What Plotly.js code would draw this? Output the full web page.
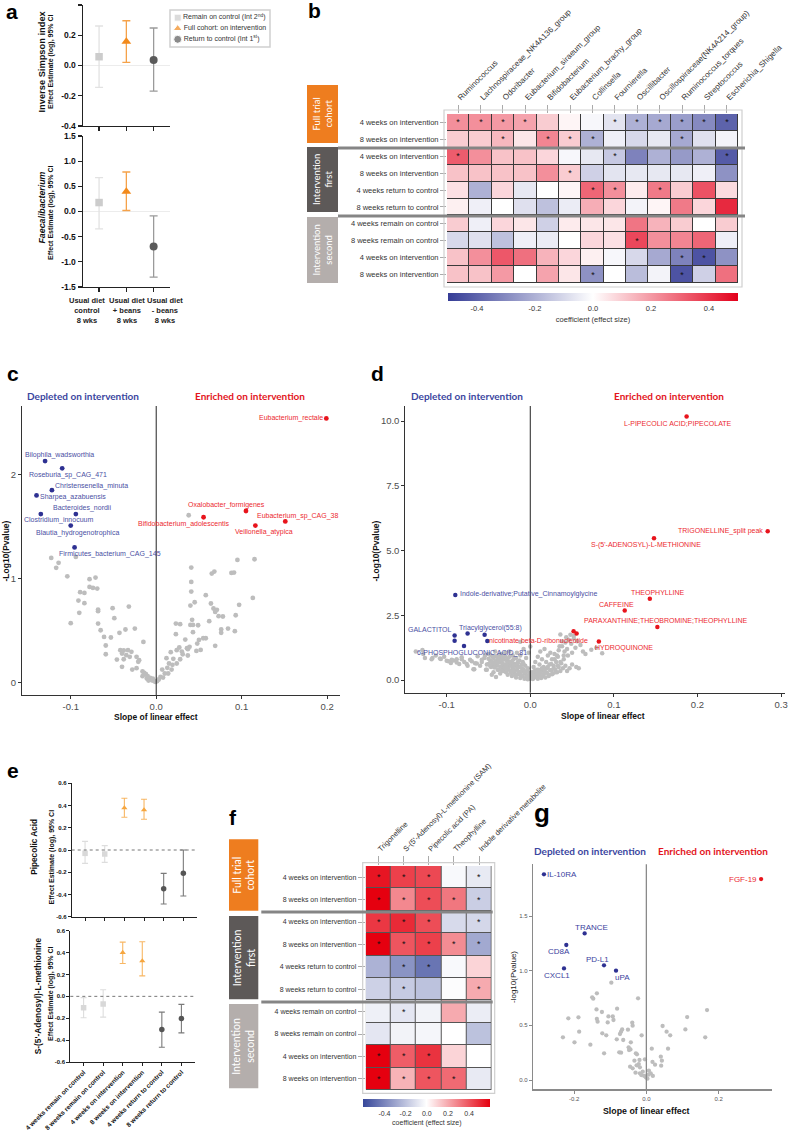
<!DOCTYPE html>
<html><head><meta charset="utf-8">
<script src="https://cdn.plot.ly/plotly-3.0.1.min.js"></script>
<style>html,body{margin:0;padding:0;background:#fff}#chart{width:789px;height:1139px}</style>
</head><body><div id="chart"></div>
<script>
// ================= DATA =================
// Panel a
const aCategories = ['Usual diet<br>control<br>8 wks', 'Usual diet<br>+ beans<br>8 wks', 'Usual diet<br>- beans<br>8 wks'];
const aGroupNames = ['Remain on control (Int 2<sup>nd</sup>)', 'Full cohort: on intervention', 'Return to control (Int 1<sup>st</sup>)'];
const aSimpsonEst = [0.058, 0.158, 0.036];
const aSimpsonLo = [-0.144, 0.021, -0.169];
const aSimpsonHi = [0.261, 0.296, 0.248];
const aFaecEst = [0.178, 0.397, -0.694];
const aFaecLo = [-0.344, 0.02, -1.302];
const aFaecHi = [0.674, 0.785, -0.086];

// Heatmap rows (shared by b and f)
const heatRows = ['4 weeks on intervention', '8 weeks on intervention', '4 weeks on intervention', '8 weeks on intervention', '4 weeks return to control', '8 weeks return to control', '4 weeks remain on control', '8 weeks remain on control', '4 weeks on intervention', '8 weeks on intervention'];
const groupNames = ['Full trial<br>cohort', 'Intervention<br>first', 'Intervention<br>second'];

// Panel b
const bGenera = ['Ruminococcus', 'Lachnospiraceae_NK4A136_group', 'Odoribacter', 'Eubacterium_siraeum_group', 'Bifidobacterium', 'Eubacterium_brachy_group', 'Collinsella', 'Fournierella', 'Oscillibacter', 'Oscillospiraceae(NK4A214_group)', 'Ruminococcus_torques', 'Streptococcus', 'Escherichia_Shigella'];
const bValues = [
  [0.22, 0.22, 0.20, 0.18, 0.10, 0.02, -0.02, -0.07, -0.20, -0.22, -0.25, -0.30, -0.40],
  [0.10, 0.10, 0.14, 0.05, 0.24, 0.10, -0.20, -0.04, -0.10, -0.06, -0.22, -0.08, -0.03],
  [0.32, 0.22, 0.12, 0.12, 0.08, -0.02, -0.06, -0.14, -0.32, -0.20, -0.26, -0.20, -0.42],
  [0.12, 0.12, 0.12, 0.12, 0.22, 0.10, -0.12, -0.07, -0.06, -0.06, -0.06, -0.04, -0.28],
  [0.06, -0.20, 0.08, -0.06, 0.00, 0.02, 0.30, 0.22, 0.04, 0.26, 0.10, 0.34, 0.07],
  [0.03, -0.04, 0.00, -0.08, -0.16, -0.05, 0.16, 0.08, -0.03, 0.02, 0.26, 0.08, 0.42],
  [0.10, -0.04, 0.08, 0.05, -0.12, 0.04, 0.05, 0.05, 0.27, 0.15, 0.10, 0.00, 0.10],
  [-0.10, -0.08, -0.16, -0.04, -0.05, 0.00, 0.08, 0.06, 0.36, 0.22, 0.24, 0.30, -0.04],
  [0.12, 0.22, 0.33, 0.28, 0.15, 0.08, 0.03, -0.02, -0.10, -0.22, -0.32, -0.44, -0.28],
  [0.12, 0.12, 0.20, 0.00, 0.18, 0.05, -0.28, 0.00, -0.17, -0.03, -0.44, -0.12, 0.28]
];
const bSig = [
  [1,1,1,1,0,0,0,1,1,1,1,1,1],
  [0,0,1,0,1,1,1,0,0,0,1,0,0],
  [1,0,0,0,0,0,0,1,0,0,0,0,1],
  [0,0,0,0,0,1,0,0,0,0,0,0,0],
  [0,0,0,0,0,0,1,1,0,1,0,0,0],
  [0,0,0,0,0,0,0,0,0,0,0,0,0],
  [0,0,0,0,0,0,0,0,0,0,0,0,0],
  [0,0,0,0,0,0,0,0,1,0,0,0,0],
  [0,0,0,0,0,0,0,0,0,0,1,1,0],
  [0,0,0,0,0,0,1,0,0,0,1,0,0]
];
const bColorTicks = [-0.4, -0.2, 0, 0.2, 0.4];

// Panel c
const cBlueNames = ['Bilophila_wadsworthia', 'Roseburia_sp_CAG_471', 'Christensenella_minuta', 'Sharpea_azabuensis', 'Bacteroides_nordii', 'Clostridium_innocuum', 'Blautia_hydrogenotrophica', 'Firmicutes_bacterium_CAG_145'];
const cBlueX = [-0.130, -0.110, -0.122, -0.140, -0.094, -0.135, -0.100, -0.0955];
const cBlueY = [2.13, 2.06, 1.85, 1.80, 1.62, 1.62, 1.51, 1.30];
const cRedNames = ['Eubacterium_rectale', 'Oxalobacter_formigenes', 'Eubacterium_sp_CAG_38', 'Bifidobacterium_adolescentis', 'Veillonella_atypica'];
const cRedX = [0.199, 0.105, 0.151, 0.0554, 0.116];
const cRedY = [2.54, 1.65, 1.55, 1.59, 1.51];
const cGray = [
  [-0.1228,1.199],[-0.1142,1.151],[-0.117,1.103],[-0.094,1.208],[-0.104,1.022],[-0.078,0.994],[-0.071,1.010],[-0.078,0.920],[-0.074,0.910],[-0.069,0.904],
  [-0.089,0.869],[-0.084,0.862],[-0.091,0.788],[-0.084,0.763],[-0.068,0.702],[-0.068,0.686],[-0.090,0.670],[-0.051,0.715],[-0.032,0.731],[-0.100,0.571],
  [-0.049,0.619],[-0.068,0.567],[-0.065,0.503],[-0.061,0.439],[-0.053,0.433],[-0.043,0.478],[-0.036,0.510],[-0.025,0.519],[-0.059,0.356],[-0.059,0.272],
  [-0.015,0.391],[-0.042,0.311],[-0.038,0.308],[-0.033,0.311],[-0.040,0.279],[-0.035,0.263],[-0.029,0.295],[-0.046,0.221],[-0.038,0.224],[-0.031,0.247],
  [-0.023,0.247],[-0.040,0.151],[-0.028,0.125],[-0.023,0.138],[-0.021,0.199],[-0.020,0.215],[-0.016,0.106],[-0.014,0.093],[-0.012,0.080],[-0.010,0.061],
  [-0.007,0.045],[-0.005,0.022],[-0.003,0.016],[-0.011,0.038],[-0.016,0.061],[-0.009,0.019],[-0.004,0.038],[-0.001,0.006],
  [0.038,1.609],[0.041,1.106],[0.095,1.179],[0.115,1.186],[0.041,0.968],[0.065,1.048],[0.068,1.067],[0.088,1.054],[0.091,1.058],[0.041,0.875],
  [0.058,0.840],[0.113,0.814],[0.045,0.772],[0.040,0.740],[0.064,0.760],[0.097,0.747],[0.067,0.712],[0.071,0.699],[0.069,0.679],[0.073,0.638],
  [0.078,0.635],[0.093,0.647],[0.042,0.603],[0.023,0.567],[0.028,0.561],[0.040,0.554],[0.043,0.554],[0.049,0.551],[0.062,0.590],[0.084,0.519],
  [0.076,0.510],[0.076,0.478],[0.092,0.494],[0.023,0.465],[0.043,0.484],[0.055,0.426],[0.058,0.426],[0.050,0.410],[0.034,0.413],[0.048,0.375],
  [0.069,0.353],[0.027,0.337],[0.036,0.330],[0.039,0.343],[0.017,0.292],[0.024,0.311],[0.037,0.321],[0.030,0.298],[0.052,0.314],[0.047,0.304],
  [0.012,0.234],[0.020,0.228],[0.028,0.224],[0.031,0.272],[0.037,0.260],[0.015,0.183],[0.019,0.170],[0.024,0.183],[0.013,0.141],[0.007,0.125],
  [0.018,0.125],[0.010,0.087],[0.014,0.087],[0.005,0.054],[0.003,0.029],[0.008,0.048],[0.001,0.013]
];

// Panel d
const dRedNames = ['L-PIPECOLIC ACID;PIPECOLATE', 'TRIGONELLINE_split peak', 'S-(5\'-ADENOSYL)-L-METHIONINE', 'THEOPHYLLINE', 'CAFFEINE', 'PARAXANTHINE;THEOBROMINE;THEOPHYLLINE', 'HYDROQUINONE', 'nicotinate beta-D-ribonucleotide', ''];
const dRedX = [0.187, 0.284, 0.148, 0.143, 0.113, 0.152, 0.082, 0.0518, 0.0554];
const dRedY = [10.17, 5.74, 5.47, 3.14, 2.68, 2.05, 1.49, 1.88, 1.80];
const dBlueNames = ['Indole-derivative;Putative_Cinnamoylglycine', 'GALACTITOL', '', 'Triacylglycerol(55:8)', '', '', '6-PHOSPHOGLUCONIC ACID_.81'];
const dBlueX = [-0.0897, -0.0905, -0.0905, -0.075, -0.0546, -0.0514, -0.0793];
const dBlueY = [3.28, 1.72, 1.52, 1.80, 1.75, 1.51, 1.31];
const dGray = [
  [-0.137,1.10],[-0.129,1.16],[-0.128,1.00],[-0.117,0.85],[-0.113,0.95],[-0.107,0.81],[-0.103,0.90],[-0.098,0.72],[-0.095,0.66],[-0.092,0.75],
  [-0.088,0.80],[-0.085,0.62],[-0.082,0.88],[-0.079,0.70],[-0.075,0.55],[-0.072,0.78],[-0.068,0.42],[-0.066,0.65],[-0.063,0.92],[-0.060,0.55],
  [-0.058,0.70],[-0.055,0.85],[-0.053,0.40],[-0.052,0.60],[-0.050,1.00],[-0.048,0.75],[-0.047,0.50],[-0.045,0.90],[-0.044,0.30],[-0.043,0.65],
  [-0.042,1.10],[-0.040,0.55],[-0.039,0.80],[-0.038,0.40],[-0.037,0.95],[-0.036,0.25],[-0.035,0.70],[-0.034,0.50],[-0.033,0.85],[-0.032,0.35],
  [-0.031,0.60],[-0.030,1.05],[-0.029,0.45],[-0.028,0.75],[-0.027,0.20],[-0.026,0.55],[-0.025,0.90],[-0.024,0.35],[-0.023,0.65],[-0.022,0.15],
  [-0.021,0.45],[-0.020,0.80],[-0.019,0.30],[-0.018,0.55],[-0.017,0.10],[-0.016,0.40],[-0.015,0.70],[-0.014,0.22],[-0.013,0.50],[-0.012,0.08],
  [-0.011,0.32],[-0.010,0.60],[-0.009,0.15],[-0.008,0.40],[-0.007,0.05],[-0.006,0.25],[-0.005,0.10],[-0.004,0.35],[-0.003,0.03],[-0.002,0.18],
  [-0.001,0.06],[0.001,0.10],[0.002,0.30],[0.003,0.04],[0.004,0.50],[0.005,0.20],[0.006,0.70],[0.007,0.12],[0.008,0.40],[0.009,0.90],
  [0.010,0.25],[0.011,0.60],[0.012,1.10],[0.013,0.35],[0.014,0.80],[0.015,0.15],[0.016,0.50],[0.017,1.20],[0.018,0.30],[0.019,0.70],
  [0.020,0.45],[0.021,0.95],[0.022,0.20],[0.023,0.60],[0.024,1.05],[0.025,0.38],[0.026,0.80],[0.027,0.25],[0.028,0.55],[0.029,1.00],
  [0.030,0.40],[0.031,0.70],[0.032,0.30],[0.033,0.90],[0.034,0.50],[0.035,1.30],[0.036,0.35],[0.037,0.65],[0.038,1.50],[0.039,0.45],
  [0.040,0.80],[0.041,1.10],[0.042,0.55],[0.043,1.65],[0.044,0.35],[0.045,0.95],[0.047,0.45],[0.048,1.75],[0.050,0.60],[0.052,1.60],
  [0.055,0.50],[0.058,0.45],[0.036,1.76],[0.073,1.17],[0.086,1.03],[0.079,1.25],[-0.052,0.40],[-0.067,0.42],[-0.046,0.20],[-0.041,0.12],
  [-0.050,0.62],[-0.050,0.82],[-0.048,0.55],[-0.047,0.95],[-0.046,0.70],[-0.045,0.58],[-0.044,0.85],[-0.043,0.48],[-0.042,0.72],[-0.041,0.92],
  [-0.040,0.62],[-0.039,0.40],[-0.038,0.68],[-0.037,0.85],[-0.036,0.52],[-0.035,1.00],[-0.034,0.38],[-0.033,0.62],[-0.032,0.78],[-0.031,0.48],
  [-0.030,0.90],[-0.029,0.30],[-0.028,0.62],[-0.027,0.82],[-0.026,0.42],[-0.025,1.10],[-0.024,0.55],[-0.023,0.28],[-0.022,0.72],[-0.021,0.95],
  [-0.020,0.40],[-0.019,0.62],[-0.018,0.20],[-0.017,0.85],[-0.016,1.05],[-0.015,0.50],[-0.014,0.32],[-0.013,0.75],[-0.012,1.48],[-0.012,0.95],
  [-0.011,0.18],[-0.010,0.45],[-0.009,0.70],[-0.008,1.20],[-0.007,0.30],[-0.006,0.55],[-0.005,0.85],[-0.004,0.15],[-0.003,0.45],[-0.002,1.05],
  [-0.001,0.28],[0.000,1.29],[-0.036,0.75],[-0.044,0.65],[-0.028,0.45],[-0.020,0.55],[-0.015,0.65],[-0.008,0.62],[-0.025,0.70],[-0.033,0.88],
  [0.002,0.20],[0.004,0.08],[0.005,0.35],[0.006,0.15],[0.008,0.25],[0.009,0.05],[0.010,0.40],[0.011,0.18],[0.012,0.30],[0.013,0.08],
  [0.014,0.45],[0.016,0.22],[0.017,0.35],[0.018,0.10],[0.020,0.28],[0.021,0.50],[0.022,0.15],[0.024,0.38],[0.025,0.62],[0.026,0.22],
  [0.028,0.45],[0.029,0.80],[0.030,0.30],[0.032,0.95],[0.033,0.55],[0.034,1.15],[0.036,0.70],[0.038,1.30],[0.040,0.95],[0.042,1.45],
  [0.044,1.20],[0.046,1.55],[0.049,1.40],[0.052,1.70],[0.054,1.25],[0.056,1.50],[0.060,1.35],[0.063,1.10],[0.066,1.00],[0.050,1.05],
  [-0.126,0.85],[-0.118,0.80],[-0.108,0.83],[-0.100,0.74],[-0.094,0.78],[-0.088,0.68],[-0.082,0.80],[-0.076,0.62],[-0.070,0.72],[-0.064,0.64],
  [-0.058,0.78],[-0.054,0.96]
];

// Panel e
const eCategories = ['4 weeks remain on control', '8 weeks remain on control', '4 weeks on intervention', '8 weeks on intervention', '4 weeks return to control', '8 weeks return to control'];
const eGroupOf = [0, 0, 1, 1, 2, 2];
const ePipEst = [-0.03, -0.036, 0.378, 0.36, -0.348, -0.21];
const ePipLo = [-0.12, -0.111, 0.294, 0.276, -0.486, -0.414];
const ePipHi = [0.078, 0.039, 0.465, 0.456, -0.21, 0.0];
const eSamEst = [-0.104, -0.07, 0.40, 0.324, -0.303, -0.202];
const eSamLo = [-0.196, -0.19, 0.30, 0.187, -0.465, -0.334];
const eSamHi = [-0.012, 0.061, 0.496, 0.499, -0.144, -0.073];

// Panel f
const fMetabolites = ['Trigonelline', 'S-(5\'-Adenosyl)-L-methionine (SAM)', 'Pipecolic acid (PA)', 'Theophylline', 'Indole derivative metabolite'];
const fValues = [
  [0.55, 0.45, 0.43, -0.02, -0.07],
  [0.60, 0.28, 0.42, 0.32, -0.16],
  [0.47, 0.50, 0.42, -0.12, -0.13],
  [0.60, 0.40, 0.45, 0.27, -0.28],
  [-0.25, -0.35, -0.45, -0.02, 0.10],
  [-0.15, -0.17, -0.20, -0.01, 0.20],
  [-0.05, -0.08, -0.04, 0.20, -0.06],
  [-0.08, -0.04, -0.03, 0.00, -0.20],
  [0.60, 0.38, 0.48, 0.10, 0.00],
  [0.60, 0.18, 0.40, 0.35, -0.07]
];
const fSig = [
  [1,1,1,0,1],[1,1,1,1,1],[1,1,1,0,1],[1,1,1,1,1],[0,1,1,0,0],
  [0,1,0,0,1],[0,1,0,0,0],[0,0,0,0,0],[1,1,1,0,0],[1,1,1,1,0]
];

// Panel g
const gBlueNames = ['IL-10RA', 'TRANCE', 'CD8A', 'PD-L1', 'CXCL1', 'uPA'];
const gBlueX = [-0.2835, -0.1708, -0.2216, -0.1173, -0.228, -0.084];
const gBlueY = [1.881, 1.341, 1.235, 1.049, 1.021, 1.0];
const gRedNames = ['FGF-19'];
const gRedX = [0.3176];
const gRedY = [1.838];
const gGray = [
  [-0.097,0.890],[-0.137,0.793],[-0.150,0.756],[-0.147,0.744],[-0.023,0.747],[-0.081,0.652],[-0.138,0.646],[-0.123,0.622],[-0.216,0.564],[-0.188,0.573],
  [-0.137,0.558],[-0.135,0.534],[-0.105,0.582],[-0.093,0.582],[-0.091,0.549],[-0.107,0.527],[-0.039,0.524],[-0.038,0.497],[-0.067,0.463],[-0.051,0.460],
  [-0.070,0.442],[-0.073,0.421],[-0.122,0.427],[-0.186,0.442],[-0.111,0.409],[-0.231,0.390],[-0.082,0.372],[-0.064,0.366],[-0.199,0.345],[-0.155,0.323],
  [-0.043,0.345],[-0.013,0.409],[-0.049,0.299],[-0.048,0.274],[-0.044,0.280],[-0.117,0.244],[-0.075,0.253],[-0.070,0.250],[-0.029,0.244],[-0.026,0.235],
  [0.015,0.287],[-0.004,0.189],[-0.033,0.177],[-0.019,0.183],[-0.021,0.146],[-0.027,0.134],[-0.045,0.122],[-0.038,0.107],[-0.018,0.116],[-0.030,0.067],
  [-0.018,0.061],[-0.014,0.046],[-0.006,0.037],[-0.001,0.024],[0.003,0.012],[0.006,0.049],[0.012,0.061],[0.018,0.037],[0.017,0.165],[0.024,0.140],
  [0.040,0.213],[0.043,0.177],[0.041,0.131],[0.045,0.494],[0.056,0.442],[0.066,0.409],[0.060,0.287],[0.113,0.576],[0.108,0.463],[0.168,0.640],
  [0.163,0.390],[-0.010,0.076],[0.007,0.085]
];

// ================= LAYOUT HELPERS =================
const W = 789, H = 1139;
const PX = v => v / W;
const PY = v => 1 - v / H;
const XD = (l, r) => [PX(l), PX(r)];
const YD = (t, b) => [PY(b), PY(t)];
const SANS = 'Liberation Sans, Arial, Helvetica, sans-serif';
const HUM = 'Lato, Open Sans, sans-serif';
const BLUE = '#2e3192', RED = '#e8141c', GRAY = '#bdbdbd';
const BLUE_T = '#4a4fa3', RED_T = '#ec2a30';
const groupColors = ['#ee7d1f', '#5d5958', '#b4aeac'];

const traces = [], shapes = [], annotations = [];
const layout = {width: W, height: H, margin: {l: 0, r: 0, t: 0, b: 0}, paper_bgcolor: '#ffffff', plot_bgcolor: 'rgba(0,0,0,0)', showlegend: false, font: {family: SANS}, shapes, annotations, hovermode: false};

function axis(o) { return Object.assign({showgrid: false, zeroline: false, showline: false, ticks: '', fixedrange: true}, o); }
function fmt(v, d) { return v.toFixed(d); }
function pnote(text, x, y, font, extra) { annotations.push(Object.assign({text, x: PX(x), y: PY(y), xref: 'paper', yref: 'paper', showarrow: false, xanchor: 'center', yanchor: 'middle', font}, extra || {})); }
function pline(x0, y0, x1, y1, color, width, dash) { shapes.push({type: 'line', xref: 'paper', yref: 'paper', x0: PX(x0), x1: PX(x1), y0: PY(y0), y1: PY(y1), line: {color, width, dash: dash || 'solid'}}); }
function prect(x0, y0, x1, y1, fill, lineColor, lw, layer) { shapes.push({type: 'rect', xref: 'paper', yref: 'paper', x0: PX(x0), x1: PX(x1), y0: PY(y1), y1: PY(y0), fillcolor: fill, line: {color: lineColor || 'rgba(0,0,0,0)', width: lw || 0}, layer: layer || 'above'}); }
function pointLabels(names, xs, ys, shifts, xa, ya, font) {
  names.forEach((n, i) => { if (!n) return; annotations.push({text: n, x: xs[i], y: ys[i], xref: xa, yref: ya, showarrow: false, xanchor: 'center', yanchor: 'middle', xshift: shifts[i][0], yshift: -shifts[i][1], font}); });
}
const ticksText = (vals, d) => vals.map(v => fmt(v, d));

// Panel letters
const letterFont = {family: SANS, size: 21, color: '#000', weight: 'bold'};
pnote('a', 12, 11.5, letterFont);
pnote('b', 314, 11, letterFont);
pnote('c', 12.5, 373, letterFont);
pnote('d', 377, 373, letterFont);
pnote('e', 12.5, 770, letterFont);
pnote('f', 233, 817, letterFont);
pnote('g', 541.5, 813, Object.assign({}, letterFont, {size: 26}));

// ================= PANEL a =================
const aTick = {family: SANS, size: 8.5, color: '#111', weight: 'bold'};
const aSymbols = ['square', 'triangle-up', 'circle'];
const aMarkerColors = ['#cccccc', '#f28a1c', '#5a5a5a'];
const aErrColors = ['#e2e2e2', '#f5a24a', '#9a9a9a'];
const aSizes = [7.5, 8.5, 8];
const aYTop = [-0.4, -0.2, 0, 0.2, 0.4], aYBot = [-1.5, -1, -0.5, 0, 0.5, 1, 1.5];
const aLineAxis = {showline: true, linecolor: '#222', linewidth: 1.2, ticks: 'outside', ticklen: 4, tickcolor: '#222', tickwidth: 1.2};
layout.xaxis = axis(Object.assign({domain: XD(82.7, 170), anchor: 'y', range: [-0.6, 2.6], tickvals: [0, 1, 2], showticklabels: false}, aLineAxis));
layout.yaxis = axis(Object.assign({domain: YD(5, 126), anchor: 'x', range: [-0.4, 0.4], tickvals: aYTop, ticktext: ticksText(aYTop, 1), tickfont: aTick, zeroline: true, zerolinecolor: '#ececec', zerolinewidth: 1}, aLineAxis));
layout.xaxis2 = axis(Object.assign({domain: XD(82.7, 170), anchor: 'y2', range: [-0.6, 2.6], tickvals: [0, 1, 2], showticklabels: false}, aLineAxis));
layout.yaxis2 = axis(Object.assign({domain: YD(136, 287), anchor: 'x2', range: [-1.5, 1.5], tickvals: aYBot, ticktext: ticksText(aYBot, 1), tickfont: aTick, zeroline: true, zerolinecolor: '#ececec', zerolinewidth: 1}, aLineAxis));
// category captions are set as a spread text block under the axis, as in the reference
const aCaptionX = [87, 127, 165];
aCategories.forEach((c, i) => pnote(c, aCaptionX[i], 310.5, {family: SANS, size: 7.5, color: '#222', weight: 'bold'}));
for (let i = 0; i < 3; i++) {
  [[aSimpsonEst, aSimpsonLo, aSimpsonHi, 'x', 'y'], [aFaecEst, aFaecLo, aFaecHi, 'x2', 'y2']].forEach(([est, lo, hi, xa, ya]) => {
    traces.push({type: 'scatter', mode: 'markers', x: [i], y: [est[i]], xaxis: xa, yaxis: ya,
      marker: {symbol: aSymbols[i], size: aSizes[i], color: aMarkerColors[i]},
      error_y: {type: 'data', symmetric: false, array: [hi[i] - est[i]], arrayminus: [est[i] - lo[i]], color: aErrColors[i], thickness: 1.3, width: 4},
      cliponaxis: false, hoverinfo: 'skip'});
  });
}
pnote('Inverse Simpson index', 41.5, 62, {family: SANS, size: 9.3, color: '#111', weight: 'bold'}, {textangle: -90});
pnote('Effect Estimate (log), 95% CI', 51, 62, {family: SANS, size: 7, color: '#111', weight: 'bold'}, {textangle: -90});
pnote('<i>Faecalibacterium</i>', 41.5, 208, {family: SANS, size: 8.8, color: '#111', weight: 'bold'}, {textangle: -90});
pnote('Effect Estimate (log), 95% CI', 51, 213, {family: SANS, size: 7, color: '#111', weight: 'bold'}, {textangle: -90});
// legend of panel a
layout.xaxis10 = {domain: XD(170, 270), anchor: 'y10', range: [0, 100], visible: false, fixedrange: true};
layout.yaxis10 = {domain: YD(10, 47), anchor: 'x10', range: [37, 0], visible: false, fixedrange: true};
prect(170, 10, 270, 47, '#ffffff', '#d0d0d0', 1.5, 'below');
traces.push({type: 'scatter', mode: 'markers+text', xaxis: 'x10', yaxis: 'y10', x: aGroupNames.map(() => 7.7), y: aGroupNames.map((_, i) => 7.7 + i * 10.8),
  text: aGroupNames, textposition: 'middle right', textfont: {family: SANS, size: 7, color: '#333'},
  marker: {symbol: aSymbols, size: [7, 8, 8], color: aMarkerColors}, cliponaxis: false, hoverinfo: 'skip'});

// ================= HEATMAP helpers =================
function groupBoxes(x0, x1, boxes, fontSize) {
  boxes.forEach((b, i) => {
    prect(x0, b[0], x1, b[1], groupColors[i]);
    pnote(groupNames[i], (x0 + x1) / 2, (b[0] + b[1]) / 2, {family: HUM, size: fontSize, color: '#ffffff'}, {textangle: -90});
  });
}

// ================= PANEL b =================
const heatScaleB = [[0, '#353c96'], [0.5, '#ffffff'], [1, '#e3001b']];
const rowIdx = heatRows.map((_, i) => i);
layout.xaxis3 = axis({domain: XD(447, 738), anchor: 'y3', side: 'top', range: [-0.5, bGenera.length - 0.5], tickvals: bGenera.map((_, i) => i), ticktext: bGenera, tickangle: -45, ticks: 'outside', ticklen: 8, tickcolor: '#aaaaaa', tickfont: {family: SANS, size: 8, color: '#333'}});
layout.yaxis3 = axis({domain: YD(114, 283), anchor: 'x3', range: [heatRows.length - 0.5, -0.5], tickvals: rowIdx, ticktext: heatRows, ticks: 'outside', ticklen: 6, tickcolor: '#aaaaaa', tickfont: {family: SANS, size: 7.5, color: '#333'}});
shapes.push({type: 'rect', xref: 'x3', yref: 'y3', x0: -0.5, x1: bGenera.length - 0.5, y0: -0.5, y1: heatRows.length - 0.5, fillcolor: '#3a3a3a', line: {width: 0}, layer: 'below'});
traces.push({type: 'heatmap', xaxis: 'x3', yaxis: 'y3', x: bGenera.map((_, i) => i), y: rowIdx, z: bValues,
  text: bSig.map(r => r.map(s => s ? '*' : '')), texttemplate: '%{text}', textfont: {family: SANS, size: 9, color: '#111'},
  colorscale: heatScaleB, zmin: -0.5, zmax: 0.5, xgap: 1, ygap: 1, hoverinfo: 'skip',
  colorbar: {orientation: 'h', x: PX(448), xanchor: 'left', y: PY(293), yanchor: 'top', len: 290, lenmode: 'pixels', thickness: 8, thicknessmode: 'pixels', xpad: 0, ypad: 0, outlinewidth: 0,
    tickvals: bColorTicks, ticktext: ticksText(bColorTicks, 1), ticks: '', tickfont: {family: SANS, size: 7.5, color: '#333'},
    title: {text: 'coefficient (effect size)', side: 'bottom', font: {family: SANS, size: 7.5, color: '#333'}}}});
prect(444, 110, 742, 287, 'rgba(0,0,0,0)', '#cfcfcf', 1.2);
pline(338, 148, 745, 148, '#858585', 3);
pline(338, 216, 745, 216, '#858585', 3);
groupBoxes(307, 338, [[85, 143], [147, 212], [217, 283]], 9.5);

// ================= PANEL c =================
const vAxis = {showline: true, linecolor: '#333', linewidth: 1, ticks: 'outside', ticklen: 3, tickcolor: '#333', tickfont: {family: SANS, size: 9.5, color: '#4d4d4d'}};
layout.xaxis4 = axis(Object.assign({domain: XD(22, 340), anchor: 'y4', range: [-0.157, 0.215], tickvals: [-0.1, 0, 0.1, 0.2], ticktext: ticksText([-0.1, 0, 0.1, 0.2], 1)}, vAxis));
layout.yaxis4 = axis(Object.assign({domain: YD(406, 695), anchor: 'x4', range: [-0.12, 2.66], tickvals: [0, 1, 2], ticktext: ['0', '1', '2']}, vAxis));
shapes.push({type: 'line', xref: 'x4', yref: 'y4 domain', x0: 0, x1: 0, y0: 0, y1: 1, line: {color: '#222', width: 1}});
traces.push({type: 'scatter', mode: 'markers', xaxis: 'x4', yaxis: 'y4', x: cGray.map(p => p[0]), y: cGray.map(p => p[1]), marker: {size: 4.8, color: GRAY}, hoverinfo: 'skip'});
traces.push({type: 'scatter', mode: 'markers', xaxis: 'x4', yaxis: 'y4', x: cBlueX, y: cBlueY, marker: {size: 4.8, color: BLUE}, hoverinfo: 'skip'});
traces.push({type: 'scatter', mode: 'markers', xaxis: 'x4', yaxis: 'y4', x: cRedX, y: cRedY, marker: {size: 4.8, color: RED}, hoverinfo: 'skip'});
const cBlueShift = [[14, -6.3], [6.3, 6.3], [40, -4.7], [36.4, 2], [6.5, -6], [18, 6.3], [7, 7], [35.8, 6.6]];
const cRedShift = [[-35.6, 0], [-19.7, -5.7], [12.2, -5.6], [-19.5, 6.7], [8.5, 6.7]];
pointLabels(cBlueNames, cBlueX, cBlueY, cBlueShift, 'x4', 'y4', {family: SANS, size: 7, color: BLUE_T});
pointLabels(cRedNames, cRedX, cRedY, cRedShift, 'x4', 'y4', {family: SANS, size: 7, color: RED_T});
const titleFontB = {family: HUM, size: 10, color: '#3b46a0', weight: 'bold'};
const titleFontR = {family: HUM, size: 10, color: '#e3151c', weight: 'bold'};
pnote('Depleted on intervention', 83, 396, titleFontB);
pnote('Enriched on intervention', 250, 396, titleFontR);
const axTitleFont = {family: SANS, size: 8.5, color: '#111', weight: 'bold'};
pnote('Slope of linear effect', 155.7, 717, axTitleFont);
pnote('-Log10(Pvalue)', 5.5, 551, axTitleFont, {textangle: -90});

// ================= PANEL d =================
layout.xaxis5 = axis(Object.assign({domain: XD(405.3, 785), anchor: 'y5', range: [-0.1495, 0.3047], tickvals: [-0.1, 0, 0.1, 0.2, 0.3], ticktext: ticksText([-0.1, 0, 0.1, 0.2, 0.3], 1)}, vAxis));
layout.yaxis5 = axis(Object.assign({domain: YD(406, 692.7), anchor: 'x5', range: [-0.49, 10.58], tickvals: [0, 2.5, 5, 7.5, 10], ticktext: ['0.0', '2.5', '5.0', '7.5', '10.0']}, vAxis));
shapes.push({type: 'line', xref: 'x5', yref: 'y5 domain', x0: 0, x1: 0, y0: 0, y1: 1, line: {color: '#222', width: 1}});
traces.push({type: 'scatter', mode: 'markers', xaxis: 'x5', yaxis: 'y5', x: dGray.map(p => p[0]), y: dGray.map(p => p[1]), marker: {size: 4.5, color: GRAY}, hoverinfo: 'skip'});
traces.push({type: 'scatter', mode: 'markers', xaxis: 'x5', yaxis: 'y5', x: dBlueX, y: dBlueY, marker: {size: 4.5, color: BLUE}, hoverinfo: 'skip'});
traces.push({type: 'scatter', mode: 'markers', xaxis: 'x5', yaxis: 'y5', x: dRedX, y: dRedY, marker: {size: 4.5, color: RED}, hoverinfo: 'skip', cliponaxis: false});
const dRedShift = [[-8.7, 7], [-46.8, -0.6], [-8.1, 7], [8.5, -6], [-8.7, -6], [8.2, -6], [24.7, 7], [-35, 9.4], [0, 0]];
const dBlueShift = [[73.5, -1.3], [-24.7, -6], [0, 0], [22.6, -5.6], [0, 0], [0, 0], [8.3, 6.7]];
pointLabels(dBlueNames, dBlueX, dBlueY, dBlueShift, 'x5', 'y5', {family: SANS, size: 7, color: BLUE_T});
pointLabels(dRedNames, dRedX, dRedY, dRedShift, 'x5', 'y5', {family: SANS, size: 7, color: RED_T});
pnote('Depleted on intervention', 466.7, 396, titleFontB);
pnote('Enriched on intervention', 669, 396, titleFontR);
pnote('Slope of linear effect', 603.3, 716, axTitleFont);
pnote('-Log10(Pvalue)', 375.5, 551, axTitleFont, {textangle: -90});

// ================= PANEL e =================
const eTick = {family: SANS, size: 6, color: '#111', weight: 'bold'};
const eY = [-0.6, -0.4, -0.2, 0, 0.2, 0.4, 0.6];
const eLineAxis = {showline: true, linecolor: '#222', linewidth: 1, ticks: 'outside', ticklen: 3, tickcolor: '#222'};
const eIdx = eCategories.map((_, i) => i);
layout.xaxis6 = axis(Object.assign({domain: XD(71.7, 196.7), anchor: 'y6', range: [-0.68, 5.68], tickvals: eIdx, showticklabels: false}, eLineAxis));
layout.yaxis6 = axis(Object.assign({domain: YD(783.3, 916.7), anchor: 'x6', range: [-0.6, 0.6], tickvals: eY, ticktext: ticksText(eY, 1), tickfont: eTick}, eLineAxis));
layout.xaxis7 = axis(Object.assign({domain: XD(70.3, 194.7), anchor: 'y7', range: [-0.68, 5.68], tickvals: eIdx, ticktext: eCategories, tickangle: -45, tickfont: {family: SANS, size: 6.5, color: '#111', weight: 'bold'}}, eLineAxis));
layout.yaxis7 = axis(Object.assign({domain: YD(930.7, 1062), anchor: 'x7', range: [-0.6, 0.6], tickvals: eY, ticktext: ticksText(eY, 1), tickfont: eTick}, eLineAxis));
shapes.push({type: 'line', xref: 'x6 domain', yref: 'y6', x0: 0, x1: 1, y0: 0, y1: 0, line: {color: '#777', width: 1, dash: 'dot'}});
shapes.push({type: 'line', xref: 'x7 domain', yref: 'y7', x0: 0, x1: 1, y0: 0, y1: 0, line: {color: '#777', width: 1, dash: 'dot'}});
const eMarkerColors = ['#d8d8d8', '#f6a63f', '#555555'];
const eErrColors = ['#dddddd', '#f8b764', '#7a7a7a'];
for (let g = 0; g < 3; g++) {
  const idx = eIdx.filter(i => eGroupOf[i] === g);
  [[ePipEst, ePipLo, ePipHi, 'x6', 'y6'], [eSamEst, eSamLo, eSamHi, 'x7', 'y7']].forEach(([est, lo, hi, xa, ya]) => {
    traces.push({type: 'scatter', mode: 'markers', xaxis: xa, yaxis: ya, x: idx, y: idx.map(i => est[i]),
      marker: {symbol: aSymbols[g], size: 5.5, color: eMarkerColors[g]},
      error_y: {type: 'data', symmetric: false, array: idx.map(i => hi[i] - est[i]), arrayminus: idx.map(i => est[i] - lo[i]), color: eErrColors[g], thickness: 1.1, width: 3},
      cliponaxis: false, hoverinfo: 'skip'});
  });
}
pnote('Pipecolic Acid', 35, 846.7, {family: SANS, size: 8.2, color: '#111', weight: 'bold'}, {textangle: -90});
pnote('Effect Estimate (log), 95% CI', 51.7, 856.7, {family: SANS, size: 7, color: '#111', weight: 'bold'}, {textangle: -90});
pnote('S-(5\'-Adenosyl)-L-methionine', 38.3, 996, {family: SANS, size: 8.4, color: '#111', weight: 'bold'}, {textangle: -90});
pnote('Effect Estimate (log), 95% CI', 51.7, 993.3, {family: SANS, size: 7, color: '#111', weight: 'bold'}, {textangle: -90});

// ================= PANEL f =================
const heatScaleF = [[0, '#37479a'], [0.5, '#ffffff'], [1, '#e5000f']];
const fColorTicks = [-0.4, -0.2, 0, 0.2, 0.4];
layout.xaxis8 = axis({domain: XD(365.7, 491.7), anchor: 'y8', side: 'top', range: [-0.5, fMetabolites.length - 0.5], tickvals: fMetabolites.map((_, i) => i), ticktext: fMetabolites, tickangle: -45, ticks: 'outside', ticklen: 9, tickcolor: '#aaaaaa', tickfont: {family: SANS, size: 7.5, color: '#333'}});
layout.yaxis8 = axis({domain: YD(866, 1090), anchor: 'x8', range: [heatRows.length - 0.5, -0.5], tickvals: rowIdx, ticktext: heatRows, ticks: 'outside', ticklen: 7, tickcolor: '#aaaaaa', tickfont: {family: SANS, size: 7, color: '#333'}});
shapes.push({type: 'rect', xref: 'x8', yref: 'y8', x0: -0.5, x1: fMetabolites.length - 0.5, y0: -0.5, y1: heatRows.length - 0.5, fillcolor: '#555555', line: {width: 0}, layer: 'below'});
traces.push({type: 'heatmap', xaxis: 'x8', yaxis: 'y8', x: fMetabolites.map((_, i) => i), y: rowIdx, z: fValues,
  text: fSig.map(r => r.map(s => s ? '*' : '')), texttemplate: '%{text}', textfont: {family: SANS, size: 9, color: '#111'},
  colorscale: heatScaleF, zmin: -0.6, zmax: 0.6, xgap: 1, ygap: 1, hoverinfo: 'skip',
  colorbar: {orientation: 'h', x: PX(363.3), xanchor: 'left', y: PY(1099.3), yanchor: 'top', len: 126.7, lenmode: 'pixels', thickness: 8, thicknessmode: 'pixels', xpad: 0, ypad: 0, outlinewidth: 0,
    tickvals: fColorTicks, ticktext: ticksText(fColorTicks, 1), ticks: '', tickfont: {family: SANS, size: 7, color: '#333'},
    title: {text: 'coefficient (effect size)', side: 'bottom', font: {family: SANS, size: 7, color: '#333'}}}});
prect(362.7, 862.7, 494.7, 1093.3, 'rgba(0,0,0,0)', '#cfcfcf', 1.2);
pline(261.3, 912, 492.7, 912, '#858585', 3);
pline(261.3, 1002, 492.7, 1002, '#858585', 3);
groupBoxes(229, 258.3, [[839.3, 910.7], [916, 999.3], [1004, 1088.3]], 10.5);

// ================= PANEL g =================
const gAxis = {showline: true, linecolor: '#8a8a8a', linewidth: 1.5, ticks: 'outside', ticklen: 3, tickcolor: '#8a8a8a', tickfont: {family: SANS, size: 6, color: '#555'}};
layout.xaxis9 = axis(Object.assign({domain: XD(533.3, 771.7), anchor: 'y9', range: [-0.313, 0.347], tickvals: [-0.2, 0, 0.2], ticktext: ticksText([-0.2, 0, 0.2], 1)}, gAxis));
layout.yaxis9 = axis(Object.assign({domain: YD(864.3, 1089.3), anchor: 'x9', range: [-0.085, 1.973], tickvals: [0, 0.5, 1, 1.5], ticktext: ticksText([0, 0.5, 1, 1.5], 1)}, gAxis));
shapes.push({type: 'line', xref: 'x9', yref: 'y9 domain', x0: 0, x1: 0, y0: 0, y1: 1, line: {color: '#8a8a8a', width: 1.3}});
traces.push({type: 'scatter', mode: 'markers', xaxis: 'x9', yaxis: 'y9', x: gGray.map(p => p[0]), y: gGray.map(p => p[1]), marker: {size: 4.3, color: GRAY}, hoverinfo: 'skip'});
traces.push({type: 'scatter', mode: 'markers', xaxis: 'x9', yaxis: 'y9', x: gBlueX, y: gBlueY, marker: {size: 4.3, color: BLUE}, hoverinfo: 'skip', cliponaxis: false});
traces.push({type: 'scatter', mode: 'markers', xaxis: 'x9', yaxis: 'y9', x: gRedX, y: gRedY, marker: {size: 4.3, color: RED}, hoverinfo: 'skip', cliponaxis: false});
const gBlueShift = [[18.5, 0], [6.7, -6.3], [-7, 6.3], [-6.7, -6.3], [-6.7, 7.3], [6.7, 6.6]];
const gRedShift = [[-18.2, 0]];
pointLabels(gBlueNames, gBlueX, gBlueY, gBlueShift, 'x9', 'y9', {family: SANS, size: 8, color: '#3b3f9e'});
pointLabels(gRedNames, gRedX, gRedY, gRedShift, 'x9', 'y9', {family: SANS, size: 8, color: RED_T});
pnote('Depleted on intervention', 590, 850.7, titleFontB);
pnote('Enriched on intervention', 713.3, 850.7, titleFontR);
pnote('Slope of linear effect', 646.7, 1110.7, {family: SANS, size: 8.8, color: '#111', weight: 'bold'});
pnote('-log10(Pvalue)', 513.3, 976.7, {family: SANS, size: 8, color: '#222'}, {textangle: -90});

Plotly.newPlot('chart', traces, layout, {staticPlot: true, displayModeBar: false});
</script>
</body></html>
